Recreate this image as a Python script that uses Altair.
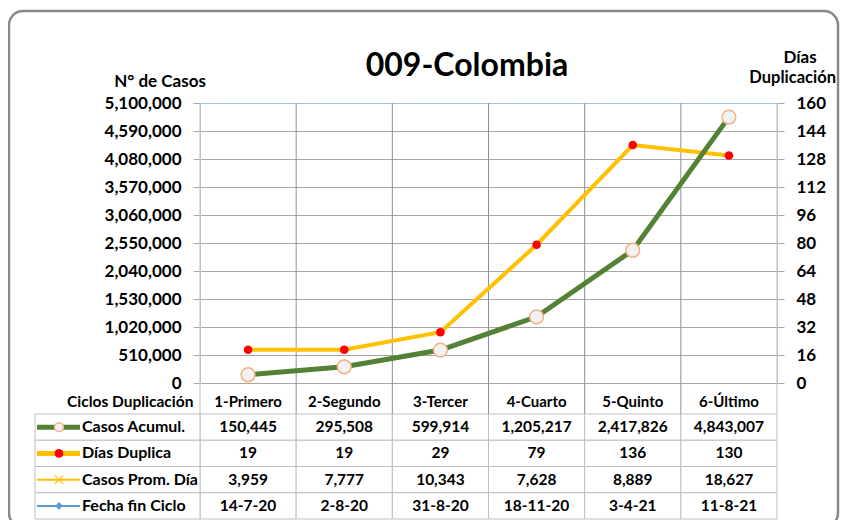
import altair as alt
import pandas as pd

# ---- data ----
cats = ["1-Primero", "2-Segundo", "3-Tercer", "4-Cuarto", "5-Quinto", "6-Último"]
casos = [150445, 295508, 599914, 1205217, 2417826, 4843007]
dias = [19, 19, 29, 79, 136, 130]
prom = [3959, 7777, 10343, 7628, 8889, 18627]
fechas = ["14-7-20", "2-8-20", "31-8-20", "18-11-20", "3-4-21", "11-8-21"]
row_labels = ["Casos Acumul.", "Días Duplica", "Casos Prom. Día", "Fecha fin Ciclo"]
left_ticks = [0, 510000, 1020000, 1530000, 2040000, 2550000, 3060000, 3570000, 4080000, 4590000, 5100000]
right_ticks = [0, 16, 32, 48, 64, 80, 96, 112, 128, 144, 160]
title_text = "009-Colombia"

FONT = "Lato"
GREEN = "#548235"
YELLOW = "#FFC000"
RED = "#FF0000"
BLUE = "#5B9BD5"

main = pd.DataFrame({"cat": cats, "casos": casos, "dias": dias})

cells = []
for i, c in enumerate(cats):
    vals = [f"{casos[i]:,}", str(dias[i]), f"{prom[i]:,}", fechas[i]]
    for r, v in enumerate(vals):
        cells.append({"cat": c, "row": r, "row_end": r + 1, "mid": r + 0.5, "text": v})
cells = pd.DataFrame(cells)

rows = pd.DataFrame({"row": [0, 1, 2, 3], "label": row_labels})
rows["row_end"] = rows["row"] + 1
rows["mid"] = rows["row"] + 0.5

header = pd.DataFrame({"cat": cats, "pos": [-0.45] * len(cats)})
one = pd.DataFrame({"a": [0]})

XSCALE = alt.Scale(type="band", domain=cats, paddingInner=0, paddingOuter=0)
X = alt.X("cat:N", sort=cats, scale=XSCALE, axis=None)
TROW = alt.Scale(domain=[0, 4], range=[311, 416])

# ---- frame ----
frame = alt.Chart(one).mark_rect(
    fillOpacity=0, stroke="#8a8a8a", strokeWidth=2.5, cornerRadius=14
).encode(x=alt.value(-191), x2=alt.value(638), y=alt.value(-92), y2=alt.value(424))

# ---- category separators ----
inner_sep = alt.Chart(pd.DataFrame({"cat": cats[1:]})).mark_rule(color="#8390a8", strokeWidth=1).encode(
    x=alt.X("cat:N", sort=cats, scale=XSCALE, axis=None, bandPosition=0),
    y=alt.value(0), y2=alt.value(311),
)
left_sep = alt.Chart(pd.DataFrame({"cat": cats[:1]})).mark_rule(color="#bfbfbf", strokeWidth=1).encode(
    x=alt.X("cat:N", sort=cats, scale=XSCALE, axis=None, bandPosition=0),
    y=alt.value(0), y2=alt.value(311),
)
right_sep = alt.Chart(pd.DataFrame({"cat": cats[-1:]})).mark_rule(color="#bfbfbf", strokeWidth=1).encode(
    x=alt.X("cat:N", sort=cats, scale=XSCALE, axis=None, bandPosition=1),
    y=alt.value(0), y2=alt.value(311),
)

# ---- table ----
cell_rects = alt.Chart(cells).mark_rect(fill="white", stroke="#bfbfbf", strokeWidth=1).encode(
    x=X,
    y=alt.Y("row:Q", scale=TROW, axis=None),
    y2="row_end:Q",
)
leg_rects = alt.Chart(rows).mark_rect(fill="white", stroke="#bfbfbf", strokeWidth=1).encode(
    x=alt.value(-165), x2=alt.value(0),
    y=alt.Y("row:Q", scale=TROW, axis=None),
    y2="row_end:Q",
)
cell_text = alt.Chart(cells).mark_text(
    font=FONT, fontWeight="bold", fontSize=15.5, color="black", baseline="middle"
).encode(x=X, y=alt.Y("mid:Q", scale=TROW, axis=None), text="text:N")

header_text = alt.Chart(header).mark_text(
    font=FONT, fontWeight="bold", fontSize=15, color="black", baseline="middle"
).encode(x=X, y=alt.Y("pos:Q", scale=TROW, axis=None), text="cat:N")

ciclos = alt.Chart(pd.DataFrame({"t": ["Ciclos Duplicación"], "pos": [-0.45]})).mark_text(
    font=FONT, fontWeight="bold", fontSize=15.5, color="black", align="left", baseline="middle"
).encode(x=alt.value(-133), y=alt.Y("pos:Q", scale=TROW, axis=None), text="t:N")

row_text = alt.Chart(rows).mark_text(
    font=FONT, fontWeight="bold", fontSize=16, color="black", align="left", baseline="middle"
).encode(x=alt.value(-118), y=alt.Y("mid:Q", scale=TROW, axis=None), text="label:N")

def leg_line(r, color, width):
    return alt.Chart(rows[rows.row == r]).mark_rule(color=color, strokeWidth=width).encode(
        x=alt.value(-163), x2=alt.value(-120), y=alt.Y("mid:Q", scale=TROW, axis=None)
    )

def leg_point(r, **kw):
    return alt.Chart(rows[rows.row == r]).mark_point(**kw).encode(
        x=alt.value(-141), y=alt.Y("mid:Q", scale=TROW, axis=None)
    )

legend_layers = [
    leg_line(0, GREEN, 5),
    leg_point(0, shape="circle", size=80, filled=True, fill="#F2F2F2", stroke="#F4B183", strokeWidth=1.5, opacity=1),
    leg_line(1, YELLOW, 5),
    leg_point(1, shape="circle", size=75, filled=True, fill=RED, opacity=1),
    leg_line(2, YELLOW, 2),
    leg_point(2, shape="M-1,-1L1,1M-1,1L1,-1", size=70, filled=False, stroke=YELLOW, strokeWidth=1.2, opacity=1),
    leg_line(3, BLUE, 2),
    leg_point(3, shape="diamond", size=60, filled=True, fill=BLUE, opacity=1),
]

# ---- plot ----
YC_SCALE = alt.Scale(domain=[0, 5100000], range=[280, 0])
YD_SCALE = alt.Scale(domain=[0, 160], range=[280, 0])

left_axis = alt.Axis(
    orient="left", values=left_ticks, format=",d", title=None,
    labelFont=FONT, labelFontWeight="bold", labelFontSize=17, labelColor="black",
    tickSize=7, tickColor="#a6a6a6", domainColor="#bfbfbf", labelPadding=12,
    grid=True,
    gridColor={"condition": {"test": "datum.value >= 5100000", "value": "#9DC3E6"}, "value": "#a6a6a6"},
)
right_axis = alt.Axis(
    orient="right", values=right_ticks, format="d", title=None,
    labelFont=FONT, labelFontWeight="bold", labelFontSize=17, labelColor="black",
    tickSize=7, tickColor="#a6a6a6", domainColor="#bfbfbf", labelPadding=12,
    grid=False,
)

dias_line = alt.Chart(main).mark_line(color=YELLOW, strokeWidth=4).encode(
    x=X, y=alt.Y("dias:Q", scale=YD_SCALE, axis=right_axis)
)
casos_line = alt.Chart(main).mark_line(color=GREEN, strokeWidth=5).encode(
    x=X, y=alt.Y("casos:Q", scale=YC_SCALE, axis=left_axis)
)
dias_pts = alt.Chart(main).mark_point(shape="circle", size=75, filled=True, fill=RED, opacity=1).encode(
    x=X, y=alt.Y("dias:Q", scale=YD_SCALE, axis=None)
)
casos_pts = alt.Chart(main).mark_point(
    shape="circle", size=190, filled=True, fill="#F2F2F2", stroke="#F4B183", strokeWidth=1.5, opacity=1
).encode(x=X, y=alt.Y("casos:Q", scale=YC_SCALE, axis=None))

# ---- titles ----
def label(text, x, y, size, align="center"):
    return alt.Chart(pd.DataFrame({"t": [text]})).mark_text(
        font=FONT, fontWeight="bold", fontSize=size, color="black", align=align, baseline="middle"
    ).encode(x=alt.value(x), y=alt.value(y), text="t:N")

titles = [
    label(title_text, 267, -37, 32),
    label("N° de Casos", -40, -21, 17),
    label("Días", 600, -45, 17),
    label("Duplicación", 636, -25, 16.5, align="right"),
]

chart = alt.layer(
    frame, inner_sep, left_sep, right_sep, cell_rects, leg_rects,
    dias_line, casos_line, dias_pts, casos_pts,
    cell_text, header_text, ciclos, row_text,
    *legend_layers, *titles,
).resolve_scale(y="independent").properties(
    width=577, height=416,
    autosize=alt.AutoSizeParams(type="none"),
    padding={"left": 192, "top": 95, "right": 63, "bottom": 1},
    background="white",
).configure_view(stroke=None)

chart.save("out.html", embed_options={"renderer": "svg", "actions": False})
